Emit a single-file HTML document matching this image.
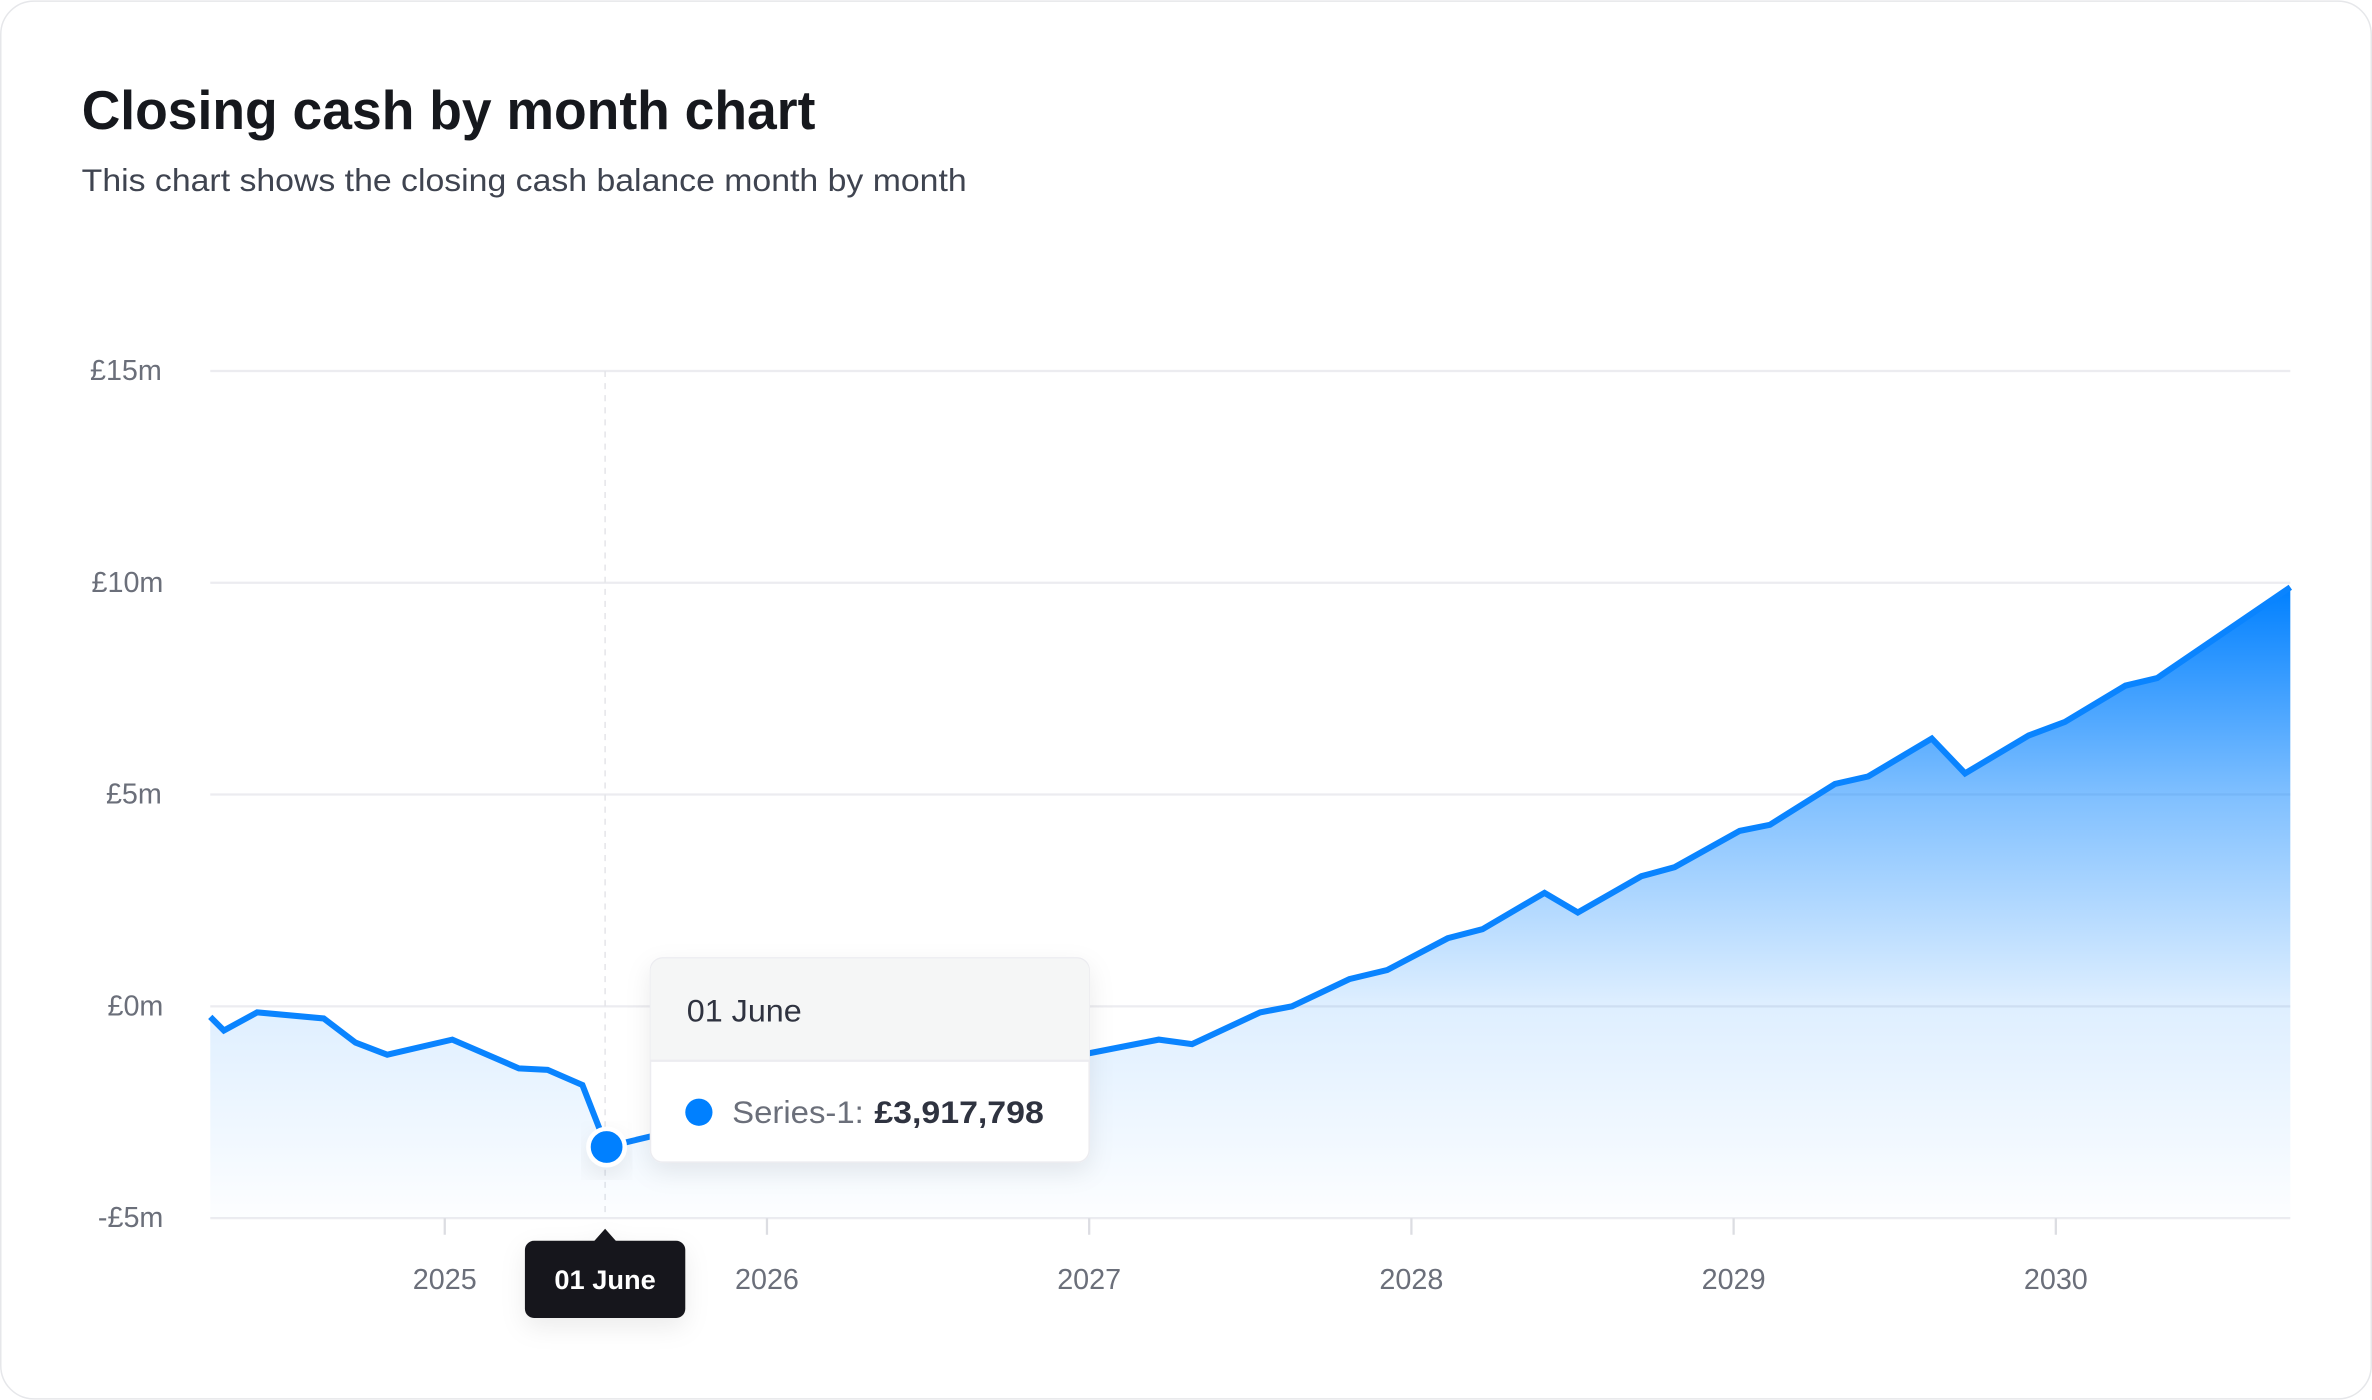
<!DOCTYPE html>
<html><head><meta charset="utf-8"><style>
html,body{margin:0;padding:0;background:#fff;}
svg{display:block;}
text{font-family:"Liberation Sans",sans-serif;}
</style></head><body>
<svg width="2372" height="1400" viewBox="0 0 1568 925" xmlns="http://www.w3.org/2000/svg">
<defs>
<linearGradient id="g" gradientUnits="userSpaceOnUse" x1="0" y1="388" x2="0" y2="805">
<stop offset="0" stop-color="#0080ff" stop-opacity="1"/>
<stop offset="0.33" stop-color="#0080ff" stop-opacity="0.5"/>
<stop offset="0.66" stop-color="#0080ff" stop-opacity="0.13"/>
<stop offset="1" stop-color="#0080ff" stop-opacity="0.01"/>
</linearGradient>
<filter id="sh" x="-20%" y="-20%" width="140%" height="160%"><feDropShadow dx="0" dy="6" stdDeviation="8" flood-color="#000" flood-opacity="0.08"/></filter>
</defs>
<rect x="0.5" y="0.5" width="1567" height="924" rx="22" fill="#fff" stroke="#e6e7ea"/>
<text x="54" y="85" font-size="36" font-weight="bold" fill="#16181d" textLength="485" lengthAdjust="spacingAndGlyphs">Closing cash by month chart</text>
<text x="54" y="126" font-size="21" fill="#3f4450" textLength="585" lengthAdjust="spacingAndGlyphs">This chart shows the closing cash balance month by month</text>
<g stroke="#ececf0" stroke-width="1.5">
<line x1="139" y1="245" x2="1514" y2="245"/><line x1="139" y1="385" x2="1514" y2="385"/>
<line x1="139" y1="525" x2="1514" y2="525"/><line x1="139" y1="665" x2="1514" y2="665"/>
<line x1="139" y1="805" x2="1514" y2="805"/>
</g>
<g stroke="#dcdde2" stroke-width="1.5">
<line x1="294" y1="805" x2="294" y2="816"/><line x1="507" y1="805" x2="507" y2="816"/>
<line x1="720" y1="805" x2="720" y2="816"/><line x1="933" y1="805" x2="933" y2="816"/>
<line x1="1146" y1="805" x2="1146" y2="816"/><line x1="1359" y1="805" x2="1359" y2="816"/>
</g>
<g font-size="19" fill="#6b6f7a" text-anchor="end">
<text x="107" y="251">£15m</text><text x="108" y="391">£10m</text><text x="107" y="531">£5m</text>
<text x="108" y="671">£0m</text><text x="108" y="811">-£5m</text>
</g>
<g font-size="19" fill="#6b6f7a" text-anchor="middle">
<text x="294" y="852">2025</text><text x="507" y="852">2026</text><text x="720" y="852">2027</text>
<text x="933" y="852">2028</text><text x="1146" y="852">2029</text><text x="1359" y="852">2030</text>
</g>
<line x1="400" y1="245" x2="400" y2="805" stroke="#e4e5e9" stroke-width="1" stroke-dasharray="4 4"/>
<path d="M139,672 L148,681 L170,669 L214,673 L235,689 L256,697 L299,687 L343,706 L362,707 L385,717 L401,758 L430,751 L470,745 L510,735 L550,728 L600,715 L640,712 L680,703 L720,696 L766,687 L788,690 L833,669 L854,665 L892,647 L917,641 L957,620 L980,614 L1021,590 L1043,603 L1085,579 L1107,573 L1150,549 L1170,545 L1213,518 L1235,513 L1277,488 L1299,511 L1341,486 L1365,477 L1405,453 L1426,448 L1514,388 L1514,805 L139,805 Z" fill="url(#g)"/>
<polyline points="139,672 148,681 170,669 214,673 235,689 256,697 299,687 343,706 362,707 385,717 401,758 430,751 470,745 510,735 550,728 600,715 640,712 680,703 720,696 766,687 788,690 833,669 854,665 892,647 917,641 957,620 980,614 1021,590 1043,603 1085,579 1107,573 1150,549 1170,545 1213,518 1235,513 1277,488 1299,511 1341,486 1365,477 1405,453 1426,448 1514,388" fill="none" stroke="#0a84ff" stroke-width="4" stroke-linejoin="miter"/>
<circle cx="401" cy="758" r="12" fill="#0080ff" stroke="#fff" stroke-width="3" filter="url(#sh)"/>
<g filter="url(#sh)">
<rect x="430" y="633" width="290" height="135" rx="8" fill="#fff" stroke="#ececf0"/>
</g>
<path d="M438,633.5 H712 A8,8 0 0 1 720,641.5 V701 H430 V641.5 A8,8 0 0 1 438,633.5 Z" fill="#f5f6f6"/>
<line x1="430" y1="701" x2="720" y2="701" stroke="#ececf0" stroke-width="1.5"/>
<text x="454" y="675" font-size="21" fill="#2f3340" textLength="76" lengthAdjust="spacingAndGlyphs">01 June</text>
<circle cx="462" cy="735" r="9" fill="#0080ff"/>
<text x="484" y="742" font-size="21" fill="#6b6f7a" textLength="87" lengthAdjust="spacingAndGlyphs">Series-1:</text>
<text x="578" y="742" font-size="21" font-weight="bold" fill="#2f3340" textLength="112" lengthAdjust="spacingAndGlyphs">£3,917,798</text>
<g filter="url(#sh)">
<path d="M392,821 L400,812 L408,821 Z" fill="#18181a"/>
<rect x="347" y="820" width="106" height="51" rx="6" fill="#18181a"/>
</g>
<text x="400" y="852" font-size="18" font-weight="bold" fill="#fff" text-anchor="middle">01 June</text>
</svg>
</body></html>
